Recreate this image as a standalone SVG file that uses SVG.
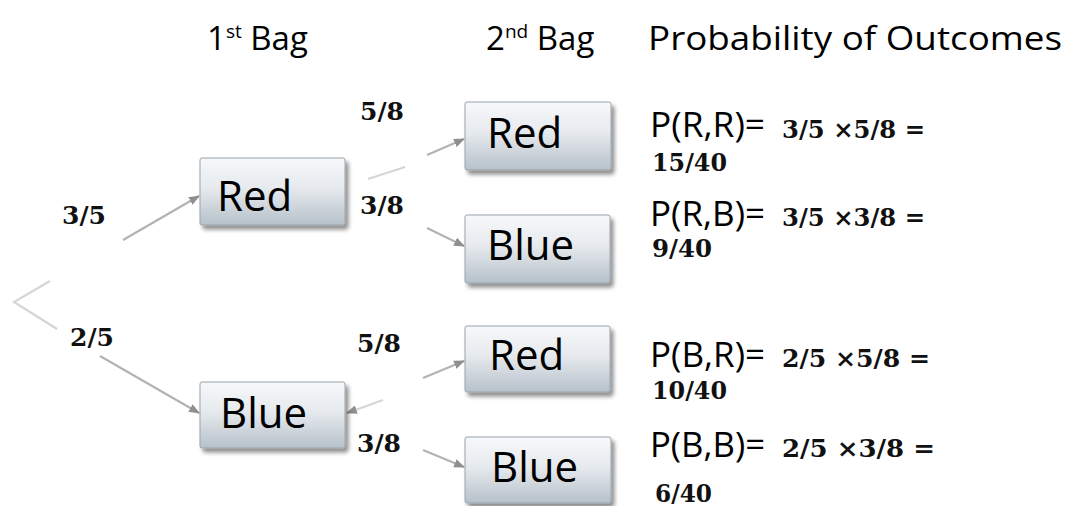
<svg xmlns="http://www.w3.org/2000/svg" width="1067" height="506" viewBox="0 0 1067 506">
  <style>
    .head { font-family: "Open Sans", "Liberation Sans", sans-serif; font-size: 33px; fill: #000; }
    .sup { font-size: 19px; }
    .box { fill: url(#boxFill); stroke: #9aa3ab; stroke-width: 1; filter: url(#shade); }
    .lbl { font-family: "Open Sans", "Liberation Sans", sans-serif; font-size: 42px; fill: #000; }
    .frac { font-family: "DejaVu Serif", "Liberation Serif", serif; font-weight: bold; font-size: 25px; fill: #111; }
    .prob { font-family: "Open Sans", "Liberation Sans", sans-serif; font-size: 34px; fill: #000; }
    .edge { stroke: #b3b3b3; stroke-width: 2.2; fill: none; }
    .edge.faint { stroke: #d6d6d6; }
    .arr { marker-end: url(#head); }
  </style>
  <defs>
    <linearGradient id="boxFill" x1="0" y1="0" x2="0" y2="1">
      <stop offset="0" stop-color="#f7f8fa"/>
      <stop offset="0.45" stop-color="#e6eaee"/>
      <stop offset="1" stop-color="#b6c1ca"/>
    </linearGradient>
    <filter id="shade" x="-10%" y="-15%" width="125%" height="140%">
      <feGaussianBlur in="SourceAlpha" stdDeviation="2"/>
      <feOffset dx="3" dy="4" result="b"/>
      <feComponentTransfer><feFuncA type="linear" slope="0.45"/></feComponentTransfer>
      <feMerge><feMergeNode/><feMergeNode in="SourceGraphic"/></feMerge>
    </filter>
    <marker id="head" viewBox="0 0 10 8" refX="9" refY="4" markerWidth="11" markerHeight="9" markerUnits="userSpaceOnUse" orient="auto">
      <path d="M0,0 L10,4 L0,8 z" fill="#8f8f8f"/>
    </marker>
  </defs>

  <rect width="1067" height="506" fill="#fff"/>

  <!-- column headings -->
  <g id="headings">
    <text class="head" x="207" y="50">1<tspan class="sup" dy="-12">st</tspan><tspan dy="12"> Bag</tspan></text>
    <text class="head" x="486" y="50">2<tspan class="sup" dy="-12">nd</tspan><tspan dy="12"> Bag</tspan></text>
    <text class="head" x="648" y="50" textLength="414" lengthAdjust="spacingAndGlyphs">Probability of Outcomes</text>
  </g>

  <!-- branches of the tree -->
  <g id="connectors">
    <path class="edge faint" d="M50,281 L14,302 L57,329"/>
    <path class="edge arr" d="M123,240 L199,196"/>
    <path class="edge arr" d="M100,356 L199,413"/>
    <path class="edge faint" d="M368,179 L405,167"/>
    <path class="edge arr" d="M427,155 L464,139"/>
    <path class="edge arr" d="M427,228 L464,246"/>
    <path class="edge arr" d="M423,378 L464,361"/>
    <path class="edge faint arr" d="M383,400 L347,413"/>
    <path class="edge arr" d="M423,450 L464,467"/>
  </g>

  <!-- branch probabilities -->
  <g id="branch-labels">
    <text class="frac" x="62" y="224">3/5</text>
    <text class="frac" x="70" y="346">2/5</text>
    <text class="frac" x="360" y="120">5/8</text>
    <text class="frac" x="360" y="214">3/8</text>
    <text class="frac" x="357" y="352">5/8</text>
    <text class="frac" x="357" y="452">3/8</text>
  </g>

  <!-- first draw -->
  <g id="bag1-red">
    <rect class="box" x="200" y="158" width="145" height="67" rx="2"/>
    <text class="lbl" x="217" y="211">Red</text>
  </g>
  <g id="bag1-blue">
    <rect class="box" x="200" y="382" width="145" height="66" rx="2"/>
    <text class="lbl" x="220" y="428">Blue</text>
  </g>

  <!-- second draw -->
  <g id="bag2-red-a">
    <rect class="box" x="465" y="102" width="146" height="68" rx="2"/>
    <text class="lbl" x="487" y="148">Red</text>
  </g>
  <g id="bag2-blue-a">
    <rect class="box" x="465" y="215" width="145" height="68" rx="2"/>
    <text class="lbl" x="487" y="260">Blue</text>
  </g>
  <g id="bag2-red-b">
    <rect class="box" x="465" y="326" width="145" height="66" rx="2"/>
    <text class="lbl" x="489" y="370">Red</text>
  </g>
  <g id="bag2-blue-b">
    <rect class="box" x="465" y="437" width="146" height="66" rx="2"/>
    <text class="lbl" x="491" y="482">Blue</text>
  </g>

  <!-- outcome probabilities -->
  <g id="outcome-rr">
    <text class="prob" x="650" y="137" textLength="115" lengthAdjust="spacingAndGlyphs">P(R,R)=</text>
    <text class="frac" x="782" y="138" textLength="143" lengthAdjust="spacingAndGlyphs">3/5 ×5/8 =</text>
    <text class="frac" x="652" y="171" textLength="75" lengthAdjust="spacingAndGlyphs">15/40</text>
  </g>
  <g id="outcome-rb">
    <text class="prob" x="650" y="226" textLength="115" lengthAdjust="spacingAndGlyphs">P(R,B)=</text>
    <text class="frac" x="782" y="226" textLength="143" lengthAdjust="spacingAndGlyphs">3/5 ×3/8 =</text>
    <text class="frac" x="652" y="257" textLength="60" lengthAdjust="spacingAndGlyphs">9/40</text>
  </g>
  <g id="outcome-br">
    <text class="prob" x="650" y="367" textLength="115" lengthAdjust="spacingAndGlyphs">P(B,R)=</text>
    <text class="frac" x="782" y="367" textLength="148" lengthAdjust="spacingAndGlyphs">2/5  ×5/8 =</text>
    <text class="frac" x="652" y="399" textLength="75" lengthAdjust="spacingAndGlyphs">10/40</text>
  </g>
  <g id="outcome-bb">
    <text class="prob" x="650" y="457" textLength="115" lengthAdjust="spacingAndGlyphs">P(B,B)=</text>
    <text class="frac" x="782" y="457" textLength="153" lengthAdjust="spacingAndGlyphs">2/5  ×3/8 =</text>
    <text class="frac" x="655" y="502" textLength="57" lengthAdjust="spacingAndGlyphs">6/40</text>
  </g>
</svg>
